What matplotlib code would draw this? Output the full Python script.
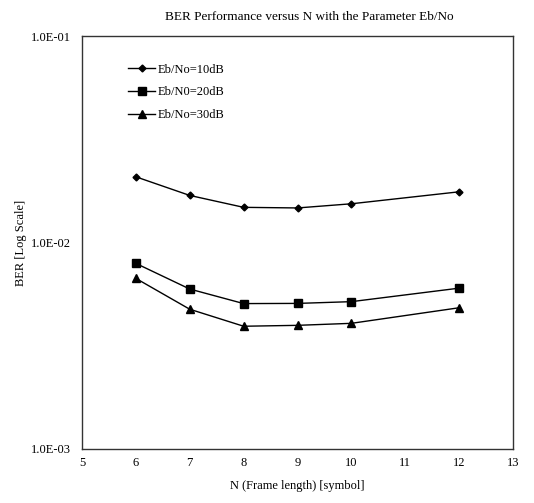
import matplotlib.pyplot as plt
from matplotlib.ticker import FuncFormatter

plt.rcParams['font.family'] = ['Liberation Serif', 'DejaVu Serif']

n_frame = [6, 7, 8, 9, 10, 12]
ber_10db = [0.0208, 0.0169, 0.0148, 0.0147, 0.0154, 0.0176]
ber_20db = [0.00792, 0.00595, 0.00506, 0.00507, 0.00517, 0.00601]
ber_30db = [0.00670, 0.00475, 0.00393, 0.00397, 0.00406, 0.00483]
labels = ['Eb/No=10dB', 'Eb/N0=20dB', 'Eb/No=30dB']

fig = plt.figure(figsize=(5.34, 5.03), dpi=100)
ax = fig.add_axes([0.1536, 0.1074, 0.8071, 0.821])

ax.plot(n_frame, ber_10db, 'k-D', markersize=3.5, linewidth=1, label=labels[0])
ax.plot(n_frame, ber_20db, 'k-s', markersize=5.5, linewidth=1, label=labels[1])
ax.plot(n_frame, ber_30db, 'k-^', markersize=5.5, linewidth=1, label=labels[2])

ax.set_yscale('log')
ax.set_ylim(1e-3, 1e-1)
ax.set_xlim(5, 13)
ax.set_xticks(range(5, 14))
ax.set_yticks([1e-3, 1e-2, 1e-1])
ax.yaxis.set_minor_locator(plt.NullLocator())
ax.yaxis.set_major_formatter(FuncFormatter(lambda v, p: '%.1E' % v))
ax.tick_params(axis='x', length=0, labelsize=9, pad=6)
ax.tick_params(axis='y', length=0, labelsize=9, pad=8)
for s in ax.spines.values():
    s.set_color('#333333')
    s.set_linewidth(1)

ax.set_xlabel('N (Frame length) [symbol]', fontsize=9, labelpad=8)
ax.set_ylabel('BER [Log Scale]', fontsize=9, labelpad=3)
fig.text(0.58, 0.967, 'BER Performance versus N with the Parameter Eb/No',
         fontsize=9.5, ha='center', va='center')

ax.legend(loc='upper left', bbox_to_anchor=(0.08, 0.96), frameon=False,
          fontsize=9, handlelength=2.2, labelspacing=0.85, handletextpad=0.2)

fig.savefig('out.png', dpi=100)
